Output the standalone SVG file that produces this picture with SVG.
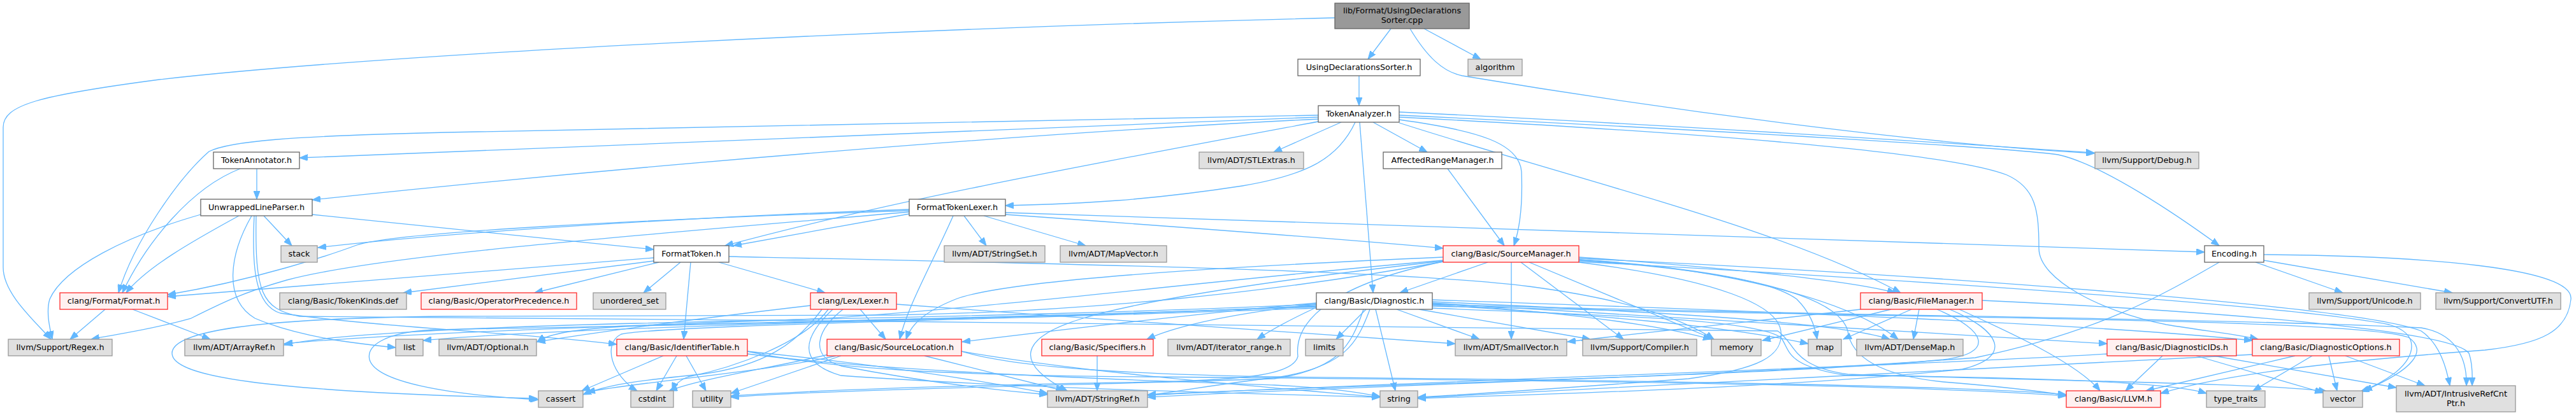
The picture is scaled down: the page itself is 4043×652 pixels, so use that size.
<svg xmlns="http://www.w3.org/2000/svg" width="4043" height="652" viewBox="0 0 4043 652">
<style>
rect{stroke-width:1.3}
.w rect{fill:#ffffff;stroke:#666666}
.g rect{fill:#e0e0e0;stroke:#999999}
.r rect{fill:#fff0f0;stroke:#ff2a2a}
.root rect{fill:#999999;stroke:#666666}
text{font-family:"DejaVu Sans","Liberation Sans",sans-serif;font-size:12.8px;text-anchor:middle;fill:#000000}
.e{fill:none;stroke:#63b8ff;stroke-width:1.3;marker-end:url(#a)}
</style>
<defs>
<marker id="a" markerWidth="14" markerHeight="10" refX="13" refY="5" orient="auto" markerUnits="userSpaceOnUse"><path d="M0,0 L13,5 L0,10 z" fill="#63b8ff" stroke="#63b8ff" stroke-width="1"/></marker>
</defs>
<rect x="0" y="0" width="4043" height="652" fill="#ffffff"/>
<g id="edges">
<path class="e" d="M2183,45 L2147,93"/>
<path class="e" d="M2235,45 L2324,93"/>
<path class="e" d="M2213,45 C2240,90 2265,113 2295,119 C2600,170 3000,225 3287,241"/>
<path class="e" d="M2095,28 C1400,45 600,85 250,125 C60,150 5,165 5,200 L5,420 C5,460 50,500 80,533"/>
<path class="e" d="M2133,119 L2133,166"/>
<path class="e" d="M2069,184 L470,248"/>
<path class="e" d="M2069,187 C1600,210 1000,260 490,314"/>
<path class="e" d="M2069,181 L700,208 C450,214 360,222 328,238 C280,280 210,380 186,460"/>
<path class="e" d="M2105,192 L1999,239"/>
<path class="e" d="M2069,191 C1700,260 1400,315 1138,386"/>
<path class="e" d="M2127,192 C2100,250 2050,275 1950,292 C1800,315 1700,320 1578,323"/>
<path class="e" d="M2134,192 L2155,460"/>
<path class="e" d="M2155,192 L2240,239"/>
<path class="e" d="M2196,188 C2320,205 2385,225 2388,270 C2390,320 2385,360 2376,386"/>
<path class="e" d="M2196,193 C2500,290 2800,360 2983,460"/>
<path class="e" d="M2196,176 C2700,200 3100,228 3287,240"/>
<path class="e" d="M2196,181 C2700,205 3150,232 3230,243 C3300,258 3420,340 3483,386"/>
<path class="e" d="M2196,184 C2700,210 3060,240 3150,275 C3195,295 3200,330 3200,390 C3200,440 3300,490 3400,510 C3460,520 3510,525 3544,533"/>
<path class="e" d="M403,265 L403,313"/>
<path class="e" d="M377,265 C300,295 230,380 192,460"/>
<path class="e" d="M2272,265 L2361,386"/>
<path class="e" d="M490,337 L1026,392"/>
<path class="e" d="M399,339 C395,420 400,480 440,492 C600,515 850,525 968,541"/>
<path class="e" d="M375,339 C300,380 230,420 198,460"/>
<path class="e" d="M315,337 C200,370 100,420 78,470 C72,490 78,515 82,533"/>
<path class="e" d="M395,339 C360,400 350,470 400,500 C470,530 560,540 621,546"/>
<path class="e" d="M414,339 L458,386"/>
<path class="e" d="M402,339 C400,460 410,485 470,497 C1200,505 2400,510 2790,520 C2820,540 2810,575 2900,588 C3200,598 3560,602 3652,615"/>
<path class="e" d="M1578,334 L3460,396"/>
<path class="e" d="M1427,336 L1151,386"/>
<path class="e" d="M1496,339 C1460,420 1425,480 1412,533"/>
<path class="e" d="M1578,337 C1900,360 2100,375 2265,390"/>
<path class="e" d="M1427,331 C1000,345 620,365 560,385 C520,400 400,440 263,463"/>
<path class="e" d="M1544,339 L1704,386"/>
<path class="e" d="M1513,339 L1548,386"/>
<path class="e" d="M1427,333 C1000,370 600,400 450,440 C380,460 350,475 300,500 C230,520 180,525 143,533"/>
<path class="e" d="M1427,329 C1100,340 700,365 499,389"/>
<path class="e" d="M1084,412 L1073,533"/>
<path class="e" d="M1034,412 L839,460"/>
<path class="e" d="M1026,405 L263,466"/>
<path class="e" d="M1128,412 L1295,460"/>
<path class="e" d="M1144,403 C1700,415 2200,425 2400,450 C2550,470 2640,500 2690,533"/>
<path class="e" d="M1068,412 L1010,460"/>
<path class="e" d="M1026,410 L633,460"/>
<path class="e" d="M3540,412 L3677,460"/>
<path class="e" d="M3553,409 L3849,460"/>
<path class="e" d="M3553,400 C3800,402 4040,420 4035,470 C4030,520 3990,540 3900,550 C3700,565 3500,585 3391,618"/>
<path class="e" d="M3483,412 C3400,460 3300,520 3100,562 C2700,592 2200,603 1801,624"/>
<path class="e" d="M2335,412 L2197,460"/>
<path class="e" d="M2372,412 L2372,533"/>
<path class="e" d="M2387,412 L2548,533"/>
<path class="e" d="M2400,412 L2690,533"/>
<path class="e" d="M2478,404 C2700,420 2900,440 2975,460"/>
<path class="e" d="M2478,409 C2800,430 2890,480 2900,520 C2905,560 2950,590 3050,600 C3150,608 3210,616 3243,621"/>
<path class="e" d="M2265,404 C1900,420 1580,440 1500,470 C1450,490 1430,510 1422,533"/>
<path class="e" d="M2265,409 C1900,440 1600,480 1300,500 C900,515 600,525 446,540"/>
<path class="e" d="M2478,408 C2700,420 2900,470 2979,533"/>
<path class="e" d="M2478,406 C3000,430 3700,480 3800,520 C3830,540 3840,580 3845,606"/>
<path class="e" d="M2265,410 C2000,440 1800,470 1700,500 C1600,530 1590,570 1675,614"/>
<path class="e" d="M2265,411 C2000,460 1700,490 1400,495 L700,497 C400,500 270,520 270,555 C270,590 400,615 843,626"/>
<path class="e" d="M2478,408 C2650,420 2780,440 2820,470 C2840,490 2848,510 2852,533"/>
<path class="e" d="M2478,412 C2700,440 2790,480 2795,520 C2800,560 2760,580 2650,595 C2450,610 2300,620 2225,624"/>
<path class="e" d="M2265,411 C2100,445 2030,500 2037,560 C2030,590 1950,596 1820,600 C1500,605 1300,612 1147,622"/>
<path class="e" d="M2478,411 C3000,440 3600,480 3750,510 C3800,525 3790,560 3760,585 C3740,600 3720,610 3705,615"/>
<path class="e" d="M2248,476 C2700,500 3100,525 3307,540"/>
<path class="e" d="M2248,471 C2800,490 3300,510 3535,535"/>
<path class="e" d="M2066,476 C1900,490 1650,520 1510,537"/>
<path class="e" d="M2066,478 C1950,490 1850,510 1800,533"/>
<path class="e" d="M2066,478 C1700,495 1300,500 1000,508 C700,515 500,528 446,542"/>
<path class="e" d="M2248,474 C2600,490 2880,505 2966,533"/>
<path class="e" d="M2248,478 C2800,495 3500,500 3800,515 C3860,525 3872,570 3871,606"/>
<path class="e" d="M2066,481 C1700,497 1300,503 1000,512 C900,516 860,525 843,537"/>
<path class="e" d="M2192,486 L2322,533"/>
<path class="e" d="M2150,486 C2130,540 2110,575 2010,592 C1900,605 1850,615 1801,621"/>
<path class="e" d="M2066,483 C2040,495 2000,515 1973,533"/>
<path class="e" d="M2227,486 L2496,533"/>
<path class="e" d="M2066,480 C1700,500 1000,512 680,518 C600,522 575,545 580,565 C590,600 700,620 845,628"/>
<path class="e" d="M2066,484 C1600,502 1050,510 975,525 C945,540 960,590 1000,614"/>
<path class="e" d="M2144,486 L2097,533"/>
<path class="e" d="M2066,482 C1600,500 900,512 664,535"/>
<path class="e" d="M2248,479 C2500,495 2700,510 2838,540"/>
<path class="e" d="M2248,477 C2450,490 2600,510 2686,533"/>
<path class="e" d="M2159,486 L2190,614"/>
<path class="e" d="M2248,484 C2500,495 2750,500 2795,530 C2810,550 2800,575 2900,590 C3150,592 3400,598 3463,618"/>
<path class="e" d="M2140,486 C2120,545 2100,580 2000,595 C1700,605 1300,612 1147,624"/>
<path class="e" d="M2248,481 C3000,500 3700,500 3780,530 C3810,550 3790,580 3710,614"/>
<path class="e" d="M3075,486 C3150,520 3260,570 3296,614"/>
<path class="e" d="M3012,486 L3003,533"/>
<path class="e" d="M3111,472 C3500,490 3850,520 3875,555 C3882,575 3880,600 3880,606"/>
<path class="e" d="M2920,486 C2800,500 2600,520 2460,537"/>
<path class="e" d="M3040,486 C3120,520 3130,555 3050,565 C2800,590 2100,605 1801,620"/>
<path class="e" d="M3000,486 L2893,533"/>
<path class="e" d="M2968,486 L2766,535"/>
<path class="e" d="M3060,486 C3140,520 3160,560 3080,580 C2800,610 2400,620 2225,626"/>
<path class="e" d="M208,486 L330,533"/>
<path class="e" d="M165,486 L110,533"/>
<path class="e" d="M1350,486 L1390,533"/>
<path class="e" d="M1272,480 C1100,500 950,520 843,537"/>
<path class="e" d="M1407,478 C1700,500 2000,520 2284,540"/>
<path class="e" d="M1323,486 C1280,520 1270,560 1320,575 C1450,600 1550,612 1644,620"/>
<path class="e" d="M1290,486 C1250,540 1200,575 1100,588 C1000,598 950,605 915,620"/>
<path class="e" d="M1300,486 C1260,540 1150,578 1080,592 C1065,598 1058,606 1055,614"/>
<path class="e" d="M1307,486 C1260,530 1250,570 1320,590 C1600,610 1950,618 2166,624"/>
<path class="e" d="M1041,559 L913,614"/>
<path class="e" d="M1062,559 L1030,614"/>
<path class="e" d="M1077,559 L1108,614"/>
<path class="e" d="M1173,552 C1300,580 1500,590 1800,592 C2400,597 3000,604 3243,622"/>
<path class="e" d="M1173,552 C1400,575 1550,600 1644,618"/>
<path class="e" d="M1173,556 C1400,585 1800,598 2000,605 C2100,610 2140,618 2166,623"/>
<path class="e" d="M1509,552 C1600,580 1800,588 2000,592 C2600,598 3100,606 3243,620"/>
<path class="e" d="M1451,559 L1670,614"/>
<path class="e" d="M1312,559 C1200,585 1000,600 921,616"/>
<path class="e" d="M1300,557 C1200,580 1100,595 1050,614"/>
<path class="e" d="M1509,552 C1700,585 1950,605 2166,624"/>
<path class="e" d="M1320,559 L1147,618"/>
<path class="e" d="M1722,559 L1722,614"/>
<path class="e" d="M3394,559 L3336,614"/>
<path class="e" d="M3474,559 L3761,609"/>
<path class="e" d="M3307,556 C3000,575 2200,600 1801,621"/>
<path class="e" d="M3447,559 L3646,617"/>
<path class="e" d="M3602,559 L3368,614"/>
<path class="e" d="M3681,559 L3806,606"/>
<path class="e" d="M3535,557 C3200,575 2600,605 2225,625"/>
<path class="e" d="M3629,559 L3536,614"/>
<path class="e" d="M3655,559 L3668,614"/>
</g>
<g id="n_root" class="root"><rect x="2095" y="5" width="211" height="40"/><text x="2200.5" y="21">lib/Format/UsingDeclarations</text><text x="2200.5" y="36">Sorter.cpp</text></g>
<g id="n_uds" class="w"><rect x="2037" y="93" width="192" height="26"/><text x="2133" y="110.4">UsingDeclarationsSorter.h</text></g>
<g id="n_alg" class="g"><rect x="2304" y="93" width="85" height="26"/><text x="2346.5" y="110.4">algorithm</text></g>
<g id="n_ta" class="w"><rect x="2069" y="166" width="127" height="26"/><text x="2132.5" y="183.4">TokenAnalyzer.h</text></g>
<g id="n_tann" class="w"><rect x="335" y="239" width="135" height="26"/><text x="402.5" y="256.4">TokenAnnotator.h</text></g>
<g id="n_stl" class="g"><rect x="1882" y="239" width="164" height="26"/><text x="1964" y="256.4">llvm/ADT/STLExtras.h</text></g>
<g id="n_arm" class="w"><rect x="2171" y="239" width="186" height="26"/><text x="2264" y="256.4">AffectedRangeManager.h</text></g>
<g id="n_debug" class="g"><rect x="3288" y="239" width="163" height="26"/><text x="3369.5" y="256.4">llvm/Support/Debug.h</text></g>
<g id="n_ulp" class="w"><rect x="315" y="313" width="175" height="26"/><text x="402.5" y="330.4">UnwrappedLineParser.h</text></g>
<g id="n_ftl" class="w"><rect x="1427" y="313" width="151" height="26"/><text x="1502.5" y="330.4">FormatTokenLexer.h</text></g>
<g id="n_stack" class="g"><rect x="441" y="386" width="57" height="26"/><text x="469.5" y="403.4">stack</text></g>
<g id="n_ft" class="w"><rect x="1026" y="386" width="118" height="26"/><text x="1085" y="403.4">FormatToken.h</text></g>
<g id="n_sset" class="g"><rect x="1482" y="386" width="158" height="26"/><text x="1561" y="403.4">llvm/ADT/StringSet.h</text></g>
<g id="n_mapv" class="g"><rect x="1664" y="386" width="167" height="26"/><text x="1747.5" y="403.4">llvm/ADT/MapVector.h</text></g>
<g id="n_sm" class="r"><rect x="2265" y="386" width="213" height="26"/><text x="2371.5" y="403.4">clang/Basic/SourceManager.h</text></g>
<g id="n_enc" class="w"><rect x="3460" y="386" width="93" height="26"/><text x="3506.5" y="403.4">Encoding.h</text></g>
<g id="n_format" class="r"><rect x="94" y="460" width="169" height="26"/><text x="178.5" y="477.4">clang/Format/Format.h</text></g>
<g id="n_tkdef" class="g"><rect x="439" y="460" width="199" height="26"/><text x="538.5" y="477.4">clang/Basic/TokenKinds.def</text></g>
<g id="n_opprec" class="r"><rect x="661" y="460" width="244" height="26"/><text x="783" y="477.4">clang/Basic/OperatorPrecedence.h</text></g>
<g id="n_uset" class="g"><rect x="931" y="460" width="114" height="26"/><text x="988" y="477.4">unordered_set</text></g>
<g id="n_lexer" class="r"><rect x="1272" y="460" width="135" height="26"/><text x="1339.5" y="477.4">clang/Lex/Lexer.h</text></g>
<g id="n_diag" class="w"><rect x="2066" y="460" width="182" height="26"/><text x="2157" y="477.4">clang/Basic/Diagnostic.h</text></g>
<g id="n_fm" class="r"><rect x="2920" y="460" width="191" height="26"/><text x="3015.5" y="477.4">clang/Basic/FileManager.h</text></g>
<g id="n_unicode" class="g"><rect x="3624" y="460" width="175" height="26"/><text x="3711.5" y="477.4">llvm/Support/Unicode.h</text></g>
<g id="n_convutf" class="g"><rect x="3823" y="460" width="196" height="26"/><text x="3921" y="477.4">llvm/Support/ConvertUTF.h</text></g>
<g id="n_regex" class="g"><rect x="13" y="533" width="163" height="26"/><text x="94.5" y="550.4">llvm/Support/Regex.h</text></g>
<g id="n_arrayref" class="g"><rect x="290" y="533" width="155" height="26"/><text x="367.5" y="550.4">llvm/ADT/ArrayRef.h</text></g>
<g id="n_list" class="g"><rect x="621" y="533" width="43" height="26"/><text x="642.5" y="550.4">list</text></g>
<g id="n_optional" class="g"><rect x="689" y="533" width="153" height="26"/><text x="765.5" y="550.4">llvm/ADT/Optional.h</text></g>
<g id="n_idt" class="r"><rect x="968" y="533" width="205" height="26"/><text x="1070.5" y="550.4">clang/Basic/IdentifierTable.h</text></g>
<g id="n_sl" class="r"><rect x="1298" y="533" width="211" height="26"/><text x="1403.5" y="550.4">clang/Basic/SourceLocation.h</text></g>
<g id="n_spec" class="r"><rect x="1635" y="533" width="175" height="26"/><text x="1722.5" y="550.4">clang/Basic/Specifiers.h</text></g>
<g id="n_iter" class="g"><rect x="1833" y="533" width="192" height="26"/><text x="1929" y="550.4">llvm/ADT/iterator_range.h</text></g>
<g id="n_limits" class="g"><rect x="2049" y="533" width="59" height="26"/><text x="2078.5" y="550.4">limits</text></g>
<g id="n_sv" class="g"><rect x="2284" y="533" width="175" height="26"/><text x="2371.5" y="550.4">llvm/ADT/SmallVector.h</text></g>
<g id="n_compiler" class="g"><rect x="2484" y="533" width="179" height="26"/><text x="2573.5" y="550.4">llvm/Support/Compiler.h</text></g>
<g id="n_memory" class="g"><rect x="2686" y="533" width="78" height="26"/><text x="2725" y="550.4">memory</text></g>
<g id="n_map" class="g"><rect x="2838" y="533" width="52" height="26"/><text x="2864" y="550.4">map</text></g>
<g id="n_densemap" class="g"><rect x="2914" y="533" width="167" height="26"/><text x="2997.5" y="550.4">llvm/ADT/DenseMap.h</text></g>
<g id="n_diagids" class="r"><rect x="3307" y="533" width="203" height="26"/><text x="3408.5" y="550.4">clang/Basic/DiagnosticIDs.h</text></g>
<g id="n_diagopts" class="r"><rect x="3535" y="533" width="231" height="26"/><text x="3650.5" y="550.4">clang/Basic/DiagnosticOptions.h</text></g>
<g id="n_cassert" class="g"><rect x="845" y="614" width="70" height="26"/><text x="880" y="631.4">cassert</text></g>
<g id="n_cstdint" class="g"><rect x="990" y="614" width="67" height="26"/><text x="1023.5" y="631.4">cstdint</text></g>
<g id="n_utility" class="g"><rect x="1087" y="614" width="60" height="26"/><text x="1117" y="631.4">utility</text></g>
<g id="n_stringref" class="g"><rect x="1644" y="614" width="157" height="26"/><text x="1722.5" y="631.4">llvm/ADT/StringRef.h</text></g>
<g id="n_string" class="g"><rect x="2166" y="614" width="59" height="26"/><text x="2195.5" y="631.4">string</text></g>
<g id="n_llvm" class="r"><rect x="3243" y="614" width="148" height="26"/><text x="3317" y="631.4">clang/Basic/LLVM.h</text></g>
<g id="n_typetraits" class="g"><rect x="3463" y="614" width="92" height="26"/><text x="3509" y="631.4">type_traits</text></g>
<g id="n_vector" class="g"><rect x="3646" y="614" width="62" height="26"/><text x="3677" y="631.4">vector</text></g>
<g id="n_ircp" class="g"><rect x="3761" y="606" width="187" height="41"/><text x="3854.5" y="623">llvm/ADT/IntrusiveRefCnt</text><text x="3854.5" y="638">Ptr.h</text></g>
</svg>
